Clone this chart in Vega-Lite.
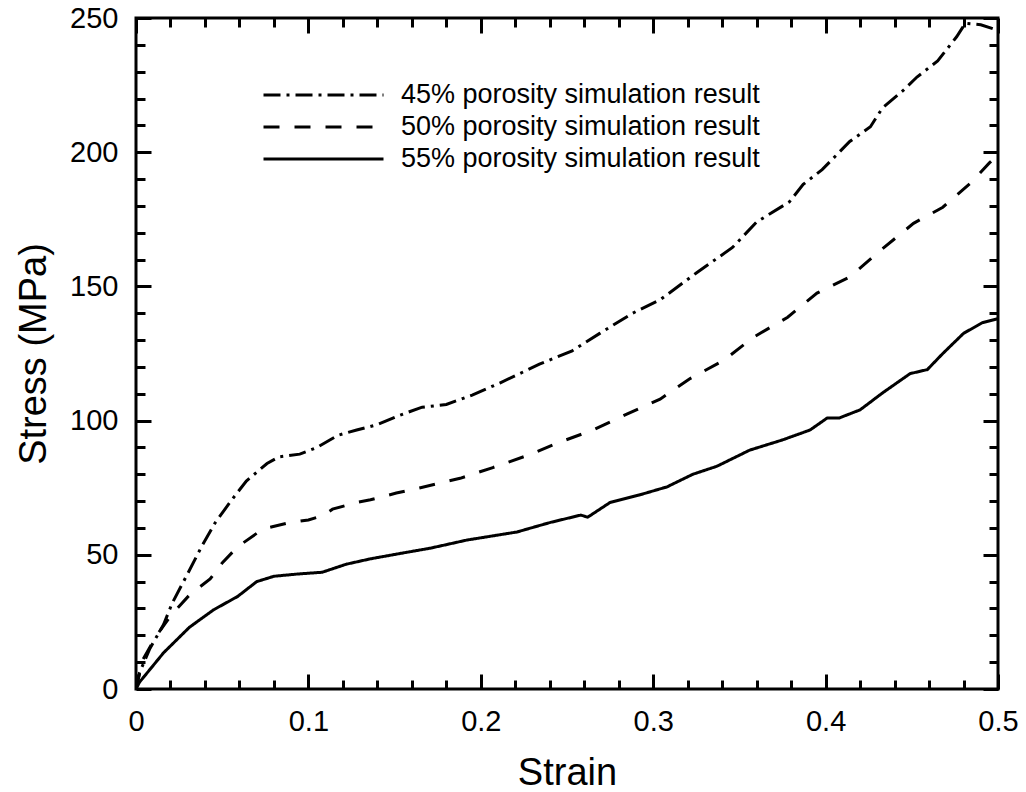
{
  "$schema": "https://vega.github.io/schema/vega-lite/v6.json",
  "autosize": "none",
  "width": 862,
  "height": 671,
  "padding": {"left": 136, "top": 18, "right": 28, "bottom": 103},
  "background": "white",
  "config": {
    "view": {"stroke": "black", "strokeWidth": 3},
    "font": "Liberation Sans",
    "axis": {
      "domain": false,
      "grid": false,
      "tickColor": "black",
      "tickWidth": 3,
      "labelColor": "black",
      "labelFont": "Liberation Sans",
      "labelFontSize": 29,
      "titleColor": "black",
      "titleFont": "Liberation Sans",
      "titleFontSize": 38,
      "titleFontWeight": "normal"
    },
    "legend": {
      "labelFont": "Liberation Sans",
      "labelFontSize": 27,
      "labelColor": "black",
      "labelLimit": 0
    }
  },
  "data": {
    "values": [
      {"series": "45% porosity simulation result", "strain": 0, "stress": 0},
      {"series": "45% porosity simulation result", "strain": 0.002, "stress": 6},
      {"series": "45% porosity simulation result", "strain": 0.008, "stress": 15},
      {"series": "45% porosity simulation result", "strain": 0.016, "stress": 24},
      {"series": "45% porosity simulation result", "strain": 0.021, "stress": 32},
      {"series": "45% porosity simulation result", "strain": 0.03, "stress": 43},
      {"series": "45% porosity simulation result", "strain": 0.038, "stress": 53},
      {"series": "45% porosity simulation result", "strain": 0.046, "stress": 62},
      {"series": "45% porosity simulation result", "strain": 0.055, "stress": 70},
      {"series": "45% porosity simulation result", "strain": 0.064, "stress": 77.5},
      {"series": "45% porosity simulation result", "strain": 0.076, "stress": 84},
      {"series": "45% porosity simulation result", "strain": 0.083, "stress": 86.5},
      {"series": "45% porosity simulation result", "strain": 0.095, "stress": 87.5},
      {"series": "45% porosity simulation result", "strain": 0.105, "stress": 90},
      {"series": "45% porosity simulation result", "strain": 0.117, "stress": 94.5},
      {"series": "45% porosity simulation result", "strain": 0.128, "stress": 96.5},
      {"series": "45% porosity simulation result", "strain": 0.14, "stress": 98.5},
      {"series": "45% porosity simulation result", "strain": 0.153, "stress": 102},
      {"series": "45% porosity simulation result", "strain": 0.166, "stress": 105},
      {"series": "45% porosity simulation result", "strain": 0.18, "stress": 106},
      {"series": "45% porosity simulation result", "strain": 0.195, "stress": 109.5},
      {"series": "45% porosity simulation result", "strain": 0.211, "stress": 114},
      {"series": "45% porosity simulation result", "strain": 0.234, "stress": 121},
      {"series": "45% porosity simulation result", "strain": 0.253, "stress": 126},
      {"series": "45% porosity simulation result", "strain": 0.269, "stress": 132.5},
      {"series": "45% porosity simulation result", "strain": 0.288, "stress": 140},
      {"series": "45% porosity simulation result", "strain": 0.304, "stress": 145},
      {"series": "45% porosity simulation result", "strain": 0.325, "stress": 155},
      {"series": "45% porosity simulation result", "strain": 0.346, "stress": 164.5},
      {"series": "45% porosity simulation result", "strain": 0.36, "stress": 174},
      {"series": "45% porosity simulation result", "strain": 0.379, "stress": 181.5},
      {"series": "45% porosity simulation result", "strain": 0.387, "stress": 188},
      {"series": "45% porosity simulation result", "strain": 0.398, "stress": 193.5},
      {"series": "45% porosity simulation result", "strain": 0.414, "stress": 204},
      {"series": "45% porosity simulation result", "strain": 0.426, "stress": 209.5},
      {"series": "45% porosity simulation result", "strain": 0.433, "stress": 216.5},
      {"series": "45% porosity simulation result", "strain": 0.445, "stress": 223},
      {"series": "45% porosity simulation result", "strain": 0.453, "stress": 228},
      {"series": "45% porosity simulation result", "strain": 0.465, "stress": 234},
      {"series": "45% porosity simulation result", "strain": 0.476, "stress": 243},
      {"series": "45% porosity simulation result", "strain": 0.481, "stress": 248},
      {"series": "45% porosity simulation result", "strain": 0.49, "stress": 247.5},
      {"series": "45% porosity simulation result", "strain": 0.497, "stress": 246},
      {"series": "45% porosity simulation result", "strain": 0.5, "stress": 245},
      {"series": "50% porosity simulation result", "strain": 0, "stress": 0},
      {"series": "50% porosity simulation result", "strain": 0.004, "stress": 11},
      {"series": "50% porosity simulation result", "strain": 0.012, "stress": 20},
      {"series": "50% porosity simulation result", "strain": 0.021, "stress": 28},
      {"series": "50% porosity simulation result", "strain": 0.031, "stress": 35},
      {"series": "50% porosity simulation result", "strain": 0.043, "stress": 41},
      {"series": "50% porosity simulation result", "strain": 0.05, "stress": 47},
      {"series": "50% porosity simulation result", "strain": 0.059, "stress": 53},
      {"series": "50% porosity simulation result", "strain": 0.07, "stress": 58},
      {"series": "50% porosity simulation result", "strain": 0.076, "stress": 60},
      {"series": "50% porosity simulation result", "strain": 0.089, "stress": 62},
      {"series": "50% porosity simulation result", "strain": 0.1, "stress": 63},
      {"series": "50% porosity simulation result", "strain": 0.108, "stress": 64.5},
      {"series": "50% porosity simulation result", "strain": 0.114, "stress": 67},
      {"series": "50% porosity simulation result", "strain": 0.128, "stress": 69.5},
      {"series": "50% porosity simulation result", "strain": 0.136, "stress": 70.5},
      {"series": "50% porosity simulation result", "strain": 0.151, "stress": 73},
      {"series": "50% porosity simulation result", "strain": 0.165, "stress": 75},
      {"series": "50% porosity simulation result", "strain": 0.188, "stress": 78.5},
      {"series": "50% porosity simulation result", "strain": 0.207, "stress": 82.5},
      {"series": "50% porosity simulation result", "strain": 0.227, "stress": 87},
      {"series": "50% porosity simulation result", "strain": 0.246, "stress": 92},
      {"series": "50% porosity simulation result", "strain": 0.265, "stress": 96.5},
      {"series": "50% porosity simulation result", "strain": 0.285, "stress": 102.5},
      {"series": "50% porosity simulation result", "strain": 0.304, "stress": 108},
      {"series": "50% porosity simulation result", "strain": 0.321, "stress": 115.5},
      {"series": "50% porosity simulation result", "strain": 0.341, "stress": 122.5},
      {"series": "50% porosity simulation result", "strain": 0.358, "stress": 131},
      {"series": "50% porosity simulation result", "strain": 0.378, "stress": 138.5},
      {"series": "50% porosity simulation result", "strain": 0.395, "stress": 147.5},
      {"series": "50% porosity simulation result", "strain": 0.414, "stress": 153.5},
      {"series": "50% porosity simulation result", "strain": 0.432, "stress": 163.5},
      {"series": "50% porosity simulation result", "strain": 0.451, "stress": 173.5},
      {"series": "50% porosity simulation result", "strain": 0.468, "stress": 179.5},
      {"series": "50% porosity simulation result", "strain": 0.484, "stress": 188.5},
      {"series": "50% porosity simulation result", "strain": 0.495, "stress": 196},
      {"series": "50% porosity simulation result", "strain": 0.5, "stress": 199},
      {"series": "55% porosity simulation result", "strain": 0, "stress": 0},
      {"series": "55% porosity simulation result", "strain": 0.002, "stress": 2.5},
      {"series": "55% porosity simulation result", "strain": 0.016, "stress": 13.5},
      {"series": "55% porosity simulation result", "strain": 0.031, "stress": 23},
      {"series": "55% porosity simulation result", "strain": 0.045, "stress": 29.5},
      {"series": "55% porosity simulation result", "strain": 0.059, "stress": 34.5},
      {"series": "55% porosity simulation result", "strain": 0.07, "stress": 40},
      {"series": "55% porosity simulation result", "strain": 0.08, "stress": 42},
      {"series": "55% porosity simulation result", "strain": 0.093, "stress": 42.8},
      {"series": "55% porosity simulation result", "strain": 0.108, "stress": 43.5},
      {"series": "55% porosity simulation result", "strain": 0.122, "stress": 46.5},
      {"series": "55% porosity simulation result", "strain": 0.136, "stress": 48.5},
      {"series": "55% porosity simulation result", "strain": 0.155, "stress": 50.7},
      {"series": "55% porosity simulation result", "strain": 0.171, "stress": 52.5},
      {"series": "55% porosity simulation result", "strain": 0.192, "stress": 55.5},
      {"series": "55% porosity simulation result", "strain": 0.221, "stress": 58.5},
      {"series": "55% porosity simulation result", "strain": 0.24, "stress": 62},
      {"series": "55% porosity simulation result", "strain": 0.258, "stress": 64.8},
      {"series": "55% porosity simulation result", "strain": 0.262, "stress": 64},
      {"series": "55% porosity simulation result", "strain": 0.275, "stress": 69.5},
      {"series": "55% porosity simulation result", "strain": 0.292, "stress": 72.3},
      {"series": "55% porosity simulation result", "strain": 0.308, "stress": 75.3},
      {"series": "55% porosity simulation result", "strain": 0.323, "stress": 80},
      {"series": "55% porosity simulation result", "strain": 0.337, "stress": 83},
      {"series": "55% porosity simulation result", "strain": 0.356, "stress": 89},
      {"series": "55% porosity simulation result", "strain": 0.375, "stress": 92.8},
      {"series": "55% porosity simulation result", "strain": 0.391, "stress": 96.5},
      {"series": "55% porosity simulation result", "strain": 0.401, "stress": 101},
      {"series": "55% porosity simulation result", "strain": 0.408, "stress": 101},
      {"series": "55% porosity simulation result", "strain": 0.42, "stress": 104},
      {"series": "55% porosity simulation result", "strain": 0.433, "stress": 110.3},
      {"series": "55% porosity simulation result", "strain": 0.449, "stress": 117.5},
      {"series": "55% porosity simulation result", "strain": 0.459, "stress": 119},
      {"series": "55% porosity simulation result", "strain": 0.468, "stress": 125},
      {"series": "55% porosity simulation result", "strain": 0.48, "stress": 132.5},
      {"series": "55% porosity simulation result", "strain": 0.491, "stress": 136.5},
      {"series": "55% porosity simulation result", "strain": 0.5, "stress": 138}
    ]
  },
  "resolve": {"axis": {"x": "independent", "y": "independent"}},
  "layer": [
    {
      "mark": {"type": "line", "color": "black", "strokeWidth": 3, "clip": true},
      "encoding": {
        "x": {
          "field": "strain", "type": "quantitative",
          "scale": {"domain": [0, 0.5], "nice": false, "zero": false},
          "axis": {"orient": "bottom", "values": [0, 0.1, 0.2, 0.3, 0.4, 0.5], "format": ".1~f", "tickSize": -15, "labelPadding": 33, "title": "Strain", "titlePadding": 18, "labelFlush": false, "labelOverlap": false}
        },
        "y": {
          "field": "stress", "type": "quantitative",
          "scale": {"domain": [0, 250], "nice": false, "zero": false},
          "axis": {"orient": "left", "values": [0, 50, 100, 150, 200, 250], "format": "d", "tickSize": -15, "labelPadding": 33, "title": "Stress (MPa)", "titlePadding": 16, "labelFlush": false, "labelOverlap": false}
        },
        "strokeDash": {
          "field": "series", "type": "nominal",
          "scale": {
            "domain": ["45% porosity simulation result", "50% porosity simulation result", "55% porosity simulation result"],
            "range": [[17, 6, 3, 6], [16, 15], [1, 0]]
          },
          "legend": {
            "title": null,
            "orient": "none",
            "legendX": 126,
            "legendY": 61,
            "padding": 0,
            "symbolType": "stroke",
            "symbolSize": 14400,
            "symbolStrokeWidth": 3,
            "symbolStrokeColor": "black",
            "labelOffset": 16,
            "clipHeight": 32,
            "rowPadding": 0
          }
        }
      }
    },
    {
      "mark": {"type": "point", "opacity": 0},
      "encoding": {
        "x": {"field": "strain", "type": "quantitative", "axis": {"orient": "bottom", "values": [0.02, 0.04, 0.06, 0.08, 0.12, 0.14, 0.16, 0.18, 0.22, 0.24, 0.26, 0.28, 0.32, 0.34, 0.36, 0.38, 0.42, 0.44, 0.46, 0.48], "tickSize": -9, "labels": false, "title": null}},
        "y": {"field": "stress", "type": "quantitative", "axis": {"orient": "left", "values": [10, 20, 30, 40, 60, 70, 80, 90, 110, 120, 130, 140, 160, 170, 180, 190, 210, 220, 230, 240], "tickSize": -9, "labels": false, "title": null}}
      }
    },
    {
      "mark": {"type": "point", "opacity": 0},
      "encoding": {
        "x": {"field": "strain", "type": "quantitative", "axis": {"orient": "top", "values": [0, 0.1, 0.2, 0.3, 0.4, 0.5], "tickSize": -15, "labels": false, "title": null}},
        "y": {"field": "stress", "type": "quantitative", "axis": {"orient": "right", "values": [0, 50, 100, 150, 200, 250], "tickSize": -15, "labels": false, "title": null}}
      }
    },
    {
      "mark": {"type": "point", "opacity": 0},
      "encoding": {
        "x": {"field": "strain", "type": "quantitative", "axis": {"orient": "top", "values": [0.02, 0.04, 0.06, 0.08, 0.12, 0.14, 0.16, 0.18, 0.22, 0.24, 0.26, 0.28, 0.32, 0.34, 0.36, 0.38, 0.42, 0.44, 0.46, 0.48], "tickSize": -9, "labels": false, "title": null}},
        "y": {"field": "stress", "type": "quantitative", "axis": {"orient": "right", "values": [10, 20, 30, 40, 60, 70, 80, 90, 110, 120, 130, 140, 160, 170, 180, 190, 210, 220, 230, 240], "tickSize": -9, "labels": false, "title": null}}
      }
    }
  ]
}
